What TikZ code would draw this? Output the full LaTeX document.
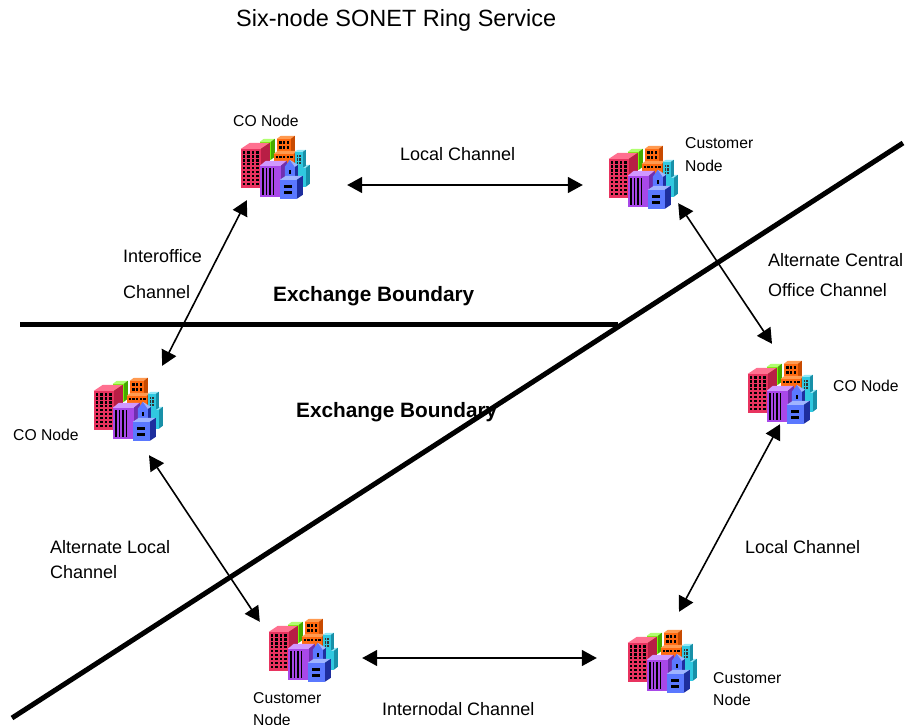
\documentclass[tikz,border=0pt]{standalone}
\usepackage{fontspec}
\setmainfont{Liberation Sans}
\usetikzlibrary{arrows.meta}

\definecolor{redF}{HTML}{E8335F}
\definecolor{redS}{HTML}{B81E45}
\definecolor{redT}{HTML}{FF7090}
\definecolor{grnF}{HTML}{77F20A}
\definecolor{grnS}{HTML}{44AA00}
\definecolor{grnT}{HTML}{B0FF70}
\definecolor{orgF}{HTML}{FF6A10}
\definecolor{orgS}{HTML}{C84A00}
\definecolor{orgT}{HTML}{FF9A50}
\definecolor{cyF}{HTML}{30C8E0}
\definecolor{cyS}{HTML}{1890A8}
\definecolor{cyT}{HTML}{90E8F8}
\definecolor{purF}{HTML}{A848E8}
\definecolor{purS}{HTML}{7030B0}
\definecolor{purT}{HTML}{D098FF}
\definecolor{bluF}{HTML}{5A78FF}
\definecolor{bluS}{HTML}{1E2E9E}
\definecolor{bluT}{HTML}{A0B4FF}

\tikzset{
  site/.style={minimum width=70pt, minimum height=66pt, inner sep=0pt},
  link/.style={>={Triangle[length=15pt,width=16pt]}, <->, line width=1.6pt},
  sitelbl/.style={font=\fontsize{15.7}{19}\selectfont, anchor=base west, align=left, inner sep=0pt},
  chanlbl/.style={font=\fontsize{18}{22}\selectfont, anchor=base west, align=left, inner sep=0pt},
  bndlbl/.style={font=\fontsize{20.8}{25}\selectfont\bfseries, anchor=base west, inner sep=0pt},
  boundary/.style={line width=5pt},
  cityblock/.pic={
    % green block
    \fill[grnT] (20,7) -- (24,4) -- (35,4) -- (31,7) -- cycle;
    \fill[grnS] (31,7) -- (35,4) -- (35,22) -- (31,25) -- cycle;
    \fill[grnF] (20,7) rectangle (31,25);
    % orange block
    \fill[orgT] (37,4) -- (41,1) -- (55,1) -- (51,4) -- cycle;
    \fill[orgS] (51,4) -- (55,1) -- (55,17) -- (51,19) -- cycle;
    \fill[orgF] (37,4) rectangle (51,19);
    \foreach \i in {0,1,2} \foreach \j in {0,1}
      \fill[black] ({39.5+\i*3.6},{6.5+\j*4.5}) rectangle ++(2.4,3);
    \fill[orgT] (34,19) -- (38,16) -- (58,16) -- (54,19) -- cycle;
    \fill[orgS] (54,19) -- (58,16) -- (58,35) -- (54,38) -- cycle;
    \fill[orgF] (34,19) rectangle (54,38);
    \foreach \i in {0,...,4}
      \fill[black] ({36+\i*3.6},21) rectangle ++(2.4,2);
    % cyan block
    \fill[cyT] (53,33) -- (57,30) -- (70,30) -- (66,33) -- cycle;
    \fill[cyS] (66,33) -- (70,30) -- (70,49) -- (66,52) -- cycle;
    \fill[cyF] (53,33) rectangle (66,52);
    \fill[cyT] (55,17) -- (58,15) -- (66,15) -- (63,17) -- cycle;
    \fill[cyS] (63,17) -- (66,15) -- (66,31) -- (63,33) -- cycle;
    \fill[cyF] (55,17) rectangle (63,33);
    \foreach \i in {0,1} \foreach \j in {0,1,2}
      \fill[black!80] ({56.8+\i*2.8},{20+\j*3.5}) rectangle ++(1.8,2.4);
    % red block
    \fill[redT] (1,14) -- (10,8) -- (30,8) -- (21,14) -- cycle;
    \fill[redS] (21,14) -- (30,8) -- (30,47) -- (21,53) -- cycle;
    \fill[redF] (1,14) rectangle (21,53);
    \foreach \i in {0,...,3} \foreach \j in {0,...,8}
      \fill[black] ({2.8+\i*4.5},{16.5+\j*3.9}) rectangle ++(2.6,2.4);
    % purple block
    \fill[purT] (20,31) -- (26,26) -- (47,26) -- (41,31) -- cycle;
    \fill[purS] (41,31) -- (47,26) -- (47,58) -- (41,62) -- cycle;
    \fill[purF] (20,31) rectangle (41,62);
    \foreach \sx in {22.5,26,29.5,33}
      \fill[black] (\sx,33) rectangle ++(1.5,27);
    % blue tower
    \fill[bluS] (55,32) -- (58,30) -- (58,43) -- (55,45) -- cycle;
    \fill[bluF] (45,45) -- (45,32) -- (50,25) -- (55,32) -- (55,45) -- cycle;
    \fill[bluT] (50,25) -- (55,32) -- (58,30) -- cycle;
    \fill[black] (49,35) rectangle (51.5,39.5);
    \fill[bluT] (40,45) -- (46,41) -- (63,41) -- (57,45) -- cycle;
    \fill[bluS] (57,45) -- (63,41) -- (63,60) -- (57,64) -- cycle;
    \fill[bluF] (40,45) rectangle (57,64);
    \fill[black] (44,50) rectangle (52,53);
    \fill[black] (44,56) rectangle (52,59);
  }
}

\begin{document}
\begin{tikzpicture}[x=1pt, y=-1pt]
\useasboundingbox (0,0) rectangle (911,725);

% title
\node[anchor=base west, inner sep=0pt, font=\fontsize{23.5}{28}\selectfont] (title) at (236,27) {Six-node SONET Ring Service};

% ring sites
\node[site] (coTL) at (275,168) {};
\node[site] (cuTR) at (643,178) {};
\node[site] (coML) at (128,410) {};
\node[site] (coMR) at (782,393) {};
\node[site] (cuBL) at (303,651) {};
\node[site] (cuBR) at (662,662) {};
\foreach \n in {coTL,cuTR,coML,coMR,cuBL,cuBR}
  \pic at (\n.north west) {cityblock};

% site labels (base = last line)
\node[sitelbl] (coTLlbl) at (233,127) {CO Node};
\node[sitelbl] (cuTRlbl) at (685,171) {Customer\\[4pt]Node};
\node[sitelbl] (coMLlbl) at (13,440) {CO Node};
\node[sitelbl] (coMRlbl) at (833,391) {CO Node};
\node[sitelbl] (cuBLlbl) at (253,725) {Customer\\[3pt]Node};
\node[sitelbl] (cuBRlbl) at (713,705) {Customer\\[3pt]Node};

% channel labels
\node[chanlbl] (lcTop) at (400,160) {Local Channel};
\node[chanlbl] (ioCh) at (123,298) {Interoffice\\[14pt]Channel};
\node[chanlbl] (acoCh) at (768,296) {Alternate Central\\[8pt]Office Channel};
\node[chanlbl] (alCh) at (50,578) {Alternate Local\\[3pt]Channel};
\node[chanlbl] (lcRight) at (745,553) {Local Channel};
\node[chanlbl] (inCh) at (382,715) {Internodal Channel};

% boundary labels
\node[bndlbl] (bndTop) at (273,301) {Exchange Boundary};
\node[bndlbl] (bndMid) at (296,417) {Exchange Boundary};

% channels
\draw[link] ([shift={(37,17)}]coTL.east) -- ([shift={(-25,7)}]cuTR.west);
\draw[link] ([shift={(7,-1)}]coTL.south west) -- ([shift={(-1,-11)}]coML.north east);
\draw[link] ([shift={(0,-8)}]cuTR.south east) -- ([shift={(-10,-16)}]coMR.north);
\draw[link] ([shift={(-2,-2)}]coMR.south) -- ([shift={(17,-17)}]cuBR.north);
\draw[link] ([shift={(21,12)}]coML.south) -- ([shift={(-8,4)}]cuBL.north west);
\draw[link] ([shift={(24,7)}]cuBL.east) -- ([shift={(-30,-4)}]cuBR.west);

% exchange boundaries
\draw[boundary] (20,324) -- (618,324);
\draw[boundary] (12,718) -- (903,143);
\end{tikzpicture}
\end{document}
